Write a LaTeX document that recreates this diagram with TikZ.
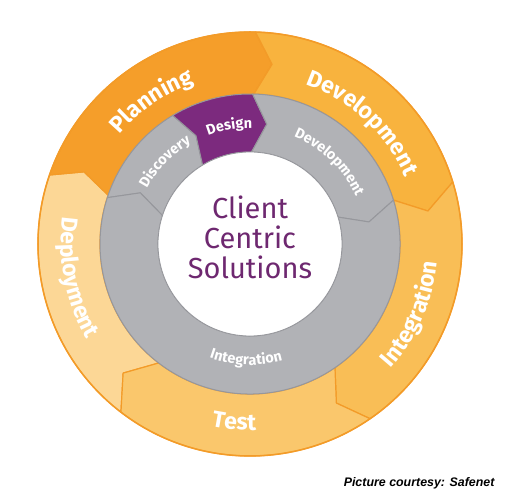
\documentclass[tikz,border=0pt]{standalone}
\usepackage{fontspec}
\setmainfont{Fira Sans}
\newfontfamily\notefont{Liberation Sans}
\usepackage{tikz}
\usetikzlibrary{decorations.text,positioning}

\definecolor{planning}{RGB}{245,158,42}
\definecolor{develop}{RGB}{248,179,62}
\definecolor{integr}{RGB}{249,190,86}
\definecolor{test}{RGB}{250,199,108}
\definecolor{deploy}{RGB}{252,215,150}
\definecolor{ringline}{RGB}{243,155,40}
\definecolor{greyring}{RGB}{177,178,182}
\definecolor{greyline}{RGB}{150,151,156}
\definecolor{design}{RGB}{124,42,126}
\definecolor{hubtext}{RGB}{110,40,112}

\newcommand{\biglab}{\fontsize{23}{23}\selectfont\bfseries}
\newcommand{\smalllab}{\fontsize{14.5}{15}\selectfont\bfseries}

\begin{document}
\begin{tikzpicture}[x=1pt,y=1pt]
            \useasboundingbox (-250,-253) rectangle (259,244);

            \tikzstyle{ring}=[draw=ringline,line width=1.2pt,line join=round]   % outer phases
            \tikzstyle{hub}=[draw=greyline,line width=1pt,line join=round]      % inner steps
            \tikzstyle{along}=[decorate,decoration={text along path,text align=center,text color=white}]

            % outer ring: colour/start/end/notch/tip
            \foreach \c/\s/\e/\n/\t in {deploy/232.5/161/7/4.5, planning/161/88.5/4.5/5.5,
                                        develop/88.5/17/5.5/6.5, integr/17/-55.5/6.5/6, test/-55.5/-127.5/6/7}
              \path[ring,fill=\c] (\s:212) arc[start angle=\s,end angle=\e,radius=212] -- (\e-\t:181)
                  -- (\e:150) arc[start angle=\e,end angle=\s,radius=150] -- (\s-\n:181) -- cycle;
            \draw[ringline,line width=1.5pt] (0,0) circle[radius=212];

            % inner ring
            \foreach \c/\s/\e/\n/\t in {greyring/162/121/7/4.5, design/121/89/4.5/7,
                                        greyring/89/17/7/6.5, greyring/17/-198/6.5/7}
              \path[hub,fill=\c] (\s:150) arc[start angle=\s,end angle=\e,radius=150] -- (\e-\t:121)
                  -- (\e:92) arc[start angle=\e,end angle=\s,radius=92] -- (\s-\n:121) -- cycle;

            \node[circle,fill=white,draw=greyline,line width=0.8pt,minimum size=184pt,inner sep=0pt] (core) at (0,0) {};
            \node[align=center,text=hubtext,font=\fontsize{29}{30}\selectfont] (hub) at ([yshift=6.5pt]core.center) {Client\\Centric\\Solutions};

            % phase labels
            \path[along,decoration={text={|\biglab|Planning}}] (164.5:170) arc[start angle=164.5,end angle=84.5,radius=170];
            \path[along,decoration={text={|\biglab|Development}}] (87:169) arc[start angle=87,end angle=7,radius=169];
            \path[along,decoration={text={|\biglab|Integration}}] (-63.5:188) arc[start angle=-63.5,end angle=16.5,radius=188];
            \path[along,decoration={text={|\biglab|Test}}] (-135:186) arc[start angle=-135,end angle=-55,radius=186];
            \path[along,decoration={text={|\biglab|Deployment}}] (151:189) arc[start angle=151,end angle=231,radius=189];

            % step labels
            \path[along,decoration={text={|\smalllab|Discovery}}] (176:117) arc[start angle=176,end angle=96,radius=117];
            \path[along,decoration={text={|\smalllab|Design}}] (140:116) arc[start angle=140,end angle=60,radius=116];
            \path[along,decoration={text={|\smalllab|Development}}] (86:116) arc[start angle=86,end angle=6,radius=116];
            \path[along,decoration={text={|\smalllab|Integration}}] (-132:121) arc[start angle=-132,end angle=-52,radius=121];

            \node[anchor=base east,font=\notefont\bfseries\itshape\fontsize{12.4}{14}\selectfont] (credit) at (248,-243) {Picture courtesy: Safenet};
\end{tikzpicture}
\end{document}
